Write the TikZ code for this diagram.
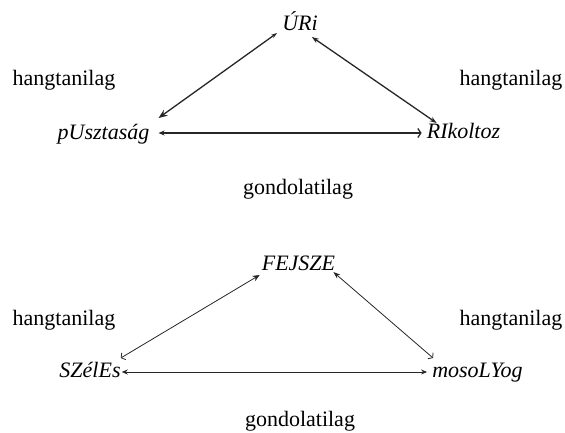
\documentclass[tikz,border=0pt]{standalone}
\usepackage{fontspec}
\setmainfont{Liberation Serif}
\usetikzlibrary{arrows.meta}
\begin{document}
\begin{tikzpicture}[x=1pt,y=-1pt,
  lbl/.style={inner sep=0pt, anchor=base, text=black, font=\fontsize{22}{26}\selectfont},
  word/.style={lbl, font=\fontsize{22}{26}\selectfont\itshape},
  heavy/.style={line width=1.3pt, draw=black!85},
  light/.style={line width=0.8pt, draw=black!85},
]
\useasboundingbox (0,0) rectangle (565,432);
% top triangle
\node[word] (uri)  at (300,30)  {ÚRi};
\node[lbl]  (hl1)  at (64,85)   {hangtanilag};
\node[lbl]  (hr1)  at (511,85)  {hangtanilag};
\node[word] (pusz) at (103.5,139) {pUsztaság};
\node[word] (rik)  at (463.5,138) {RIkoltoz};
\node[lbl]  (g1)   at (298,194) {gondolatilag};
% bottom triangle
\node[word] (fej)  at (298.5,270) {FEJSZE};
\node[lbl]  (hl2)  at (64,325)  {hangtanilag};
\node[lbl]  (hr2)  at (511,325) {hangtanilag};
\node[word] (szel) at (90,377)  {SZélEs};
\node[word] (mos)  at (477.5,377) {mosoLYog};
\node[lbl]  (g2)   at (300,426) {gondolatilag};

% top connectors
\draw[heavy, {Stealth[length=6pt,width=4pt]}-{Stealth[length=9pt,width=7pt,inset=3pt]}]
  ([xshift=-5pt,yshift=-3pt]uri.base west) -- ([xshift=9pt,yshift=21pt]pusz.base east);
\draw[heavy, {Stealth[length=7pt,width=5pt]}-{Stealth[length=7pt,width=5pt]}]
  ([xshift=-6pt,yshift=-7pt]uri.base east) -- ([xshift=10pt,yshift=15pt]rik.base west);
\draw[heavy, {Stealth[length=6pt,width=5pt]}-{Straight Barb[length=3pt,width=9pt]}]
  ([xshift=9pt,yshift=6pt]pusz.base east) -- ([xshift=-5pt,yshift=5pt]rik.base west);

% bottom connectors
\draw[light, {Stealth[length=7pt,width=6pt]}-{Straight Barb[length=3pt,width=8pt]}]
  ([xshift=-2pt,yshift=-5pt]fej.base west) -- ([xshift=0pt,yshift=19pt]szel.base east);
\draw[light, {Stealth[length=7pt,width=5pt]}-{Straight Barb[length=3pt,width=8pt]}]
  ([xshift=-2pt,yshift=-2pt]fej.base east) -- ([xshift=1pt,yshift=19pt]mos.base west);
\draw[light, {Stealth[length=6pt,width=5pt]}-{Stealth[length=6pt,width=5pt]}]
  ([xshift=1pt,yshift=5pt]szel.base east) -- ([xshift=-5pt,yshift=5pt]mos.base west);
\end{tikzpicture}
\end{document}
